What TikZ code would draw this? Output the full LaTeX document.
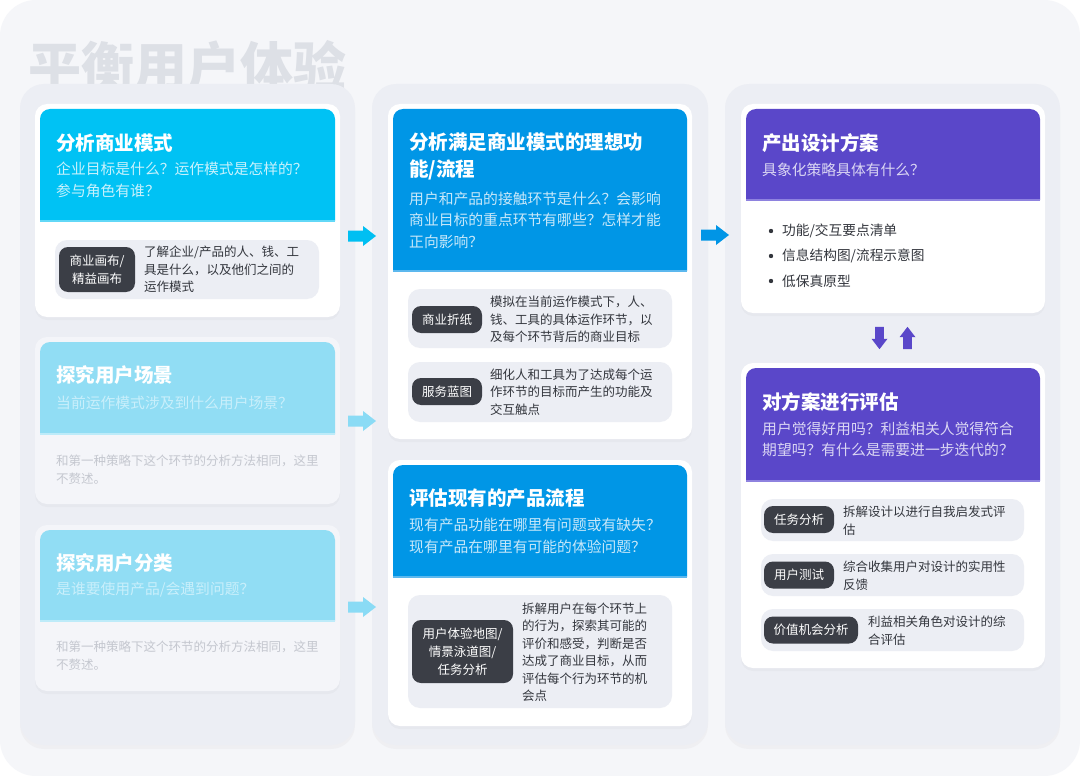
\documentclass[tikz,border=0pt]{standalone}
\usepackage{fontspec}
\setmainfont{Noto Sans CJK SC}
\usetikzlibrary{fit,shadows}
\definecolor{bgout}{HTML}{F5F6F9}
\definecolor{panel}{HTML}{ECEEF4}
\definecolor{titlegray}{HTML}{DDE0E6}
\definecolor{cyanhdr}{HTML}{00C2F4}
\definecolor{cyanline}{HTML}{62D8F7}
\definecolor{fadehdr}{HTML}{91DDF4}
\definecolor{fadeline}{HTML}{BDEBF9}
\definecolor{fadebody}{HTML}{F4F5F9}
\definecolor{fadesub}{HTML}{C9EFFB}
\definecolor{fadetext}{HTML}{C4C7CF}
\definecolor{bluehdr}{HTML}{0096E6}
\definecolor{blueline}{HTML}{5CB8EE}
\definecolor{purphdr}{HTML}{5A47C9}
\definecolor{purpline}{HTML}{8E82DF}
\definecolor{subgray}{HTML}{ECEEF4}
\definecolor{pillc}{HTML}{3B3E46}
\definecolor{txt}{HTML}{33363D}
\definecolor{arrcyan}{HTML}{00BFF2}
\definecolor{arrfade}{HTML}{8ADBF5}
\definecolor{arrblue}{HTML}{0095E6}
\tikzset{
  panelbox/.style={fill=panel, rounded corners=24, inner sep=0,
    drop shadow={opacity=0.05, shadow xshift=0pt, shadow yshift=-4pt}},
  cardbox/.style={fill=#1, rounded corners=12, inner sep=0,
    drop shadow={opacity=0.05, shadow xshift=0pt, shadow yshift=-3pt}},
  subbox/.style={fill=subgray, rounded corners=12, inner sep=0},
  pill/.style={fill=pillc, rounded corners=9, text=white, inner sep=0,
    font=\fontsize{12.5}{18}\selectfont, align=center},
  htitle/.style={anchor=west, inner sep=0, text=white, align=left,
    font=\bfseries\fontsize{19.5}{27}\selectfont},
  hsub/.style={anchor=west, inner sep=0, text=white, opacity=0.78, align=left,
    font=\fontsize{14.8}{21.5}\selectfont},
  fsub/.style={anchor=west, inner sep=0, text=fadesub, align=left,
    font=\fontsize{14.8}{21.5}\selectfont},
  desc/.style={anchor=west, inner sep=0, text=txt, align=left,
    font=\fontsize{12.5}{17.5}\selectfont},
  fdesc/.style={anchor=west, inner sep=0, text=fadetext, align=left,
    font=\fontsize{12.5}{17.5}\selectfont},
  bullet/.style={anchor=west, inner sep=0, text=txt,
    font=\fontsize{13.7}{18}\selectfont},
  barrow/.pic={\fill (-14,-5.5) -- (1,-5.5) -- (1,-10) -- (14,0) -- (1,10) -- (1,5.5) -- (-14,5.5) -- cycle;}
}
% name, x1, y1, x2, y2, header bottom, header colour, line colour, body colour
\newcommand{\mkcard}[9]{%
  \node[cardbox=#9, fit={(#2,#3) (#4,#5)}] (#1) {};
  \fill[#7] (#2+5,#6) [rounded corners=10] -- (#2+5,#3+5) -- (#4-5,#3+5) [sharp corners] -- (#4-5,#6) -- cycle;
  \draw[#8, line width=1.5] (#2+5,#6) -- (#4-5,#6);
}
\begin{document}
\begin{tikzpicture}[x=1pt,y=-1pt]
\useasboundingbox (0,0) rectangle (1080,776);
\fill[white] (0,0) rectangle (1080,776);
\fill[bgout, rounded corners=36] (0,0) rectangle (1080,776);

\node[anchor=west, inner sep=0, text=titlegray, font=\bfseries\fontsize{53}{53}\selectfont] (bigtitle) at (28,66) {平衡用户体验};

% columns
\node[panelbox, fit={(20,84) (355,745)}] (p1) {};
\node[panelbox, fit={(372,84) (708,745)}] (p2) {};
\node[panelbox, fit={(725,84) (1060,745)}] (p3) {};

% ---------- column 1 ----------
\mkcard{a1}{35}{104}{340}{317}{221}{cyanhdr}{cyanline}{white}
\node[htitle] (a1t) at (56,143) {分析商业模式};
\node[hsub] (a1q) at (56,180) {企业目标是什么？运作模式是怎样的？\\参与角色有谁？};
\node[subbox, fit={(55,240) (319,299)}] (a1s) {};
\node[pill, minimum width=76, minimum height=45] (a1p) at (97,269.5) {商业画布/\\精益画布};
\node[desc] (a1d) at (144,269.5) {了解企业/产品的人、钱、工\\具是什么，以及他们之间的\\运作模式};

\mkcard{a2}{35}{337}{340}{504}{434}{fadehdr}{fadeline}{fadebody}
\node[htitle] (a2t) at (56,375) {探究用户场景};
\node[fsub] (a2q) at (56,403) {当前运作模式涉及到什么用户场景？};
\node[fdesc] (a2d) at (56,469.5) {和第一种策略下这个环节的分析方法相同，这里\\不赘述。};

\mkcard{a3}{35}{525}{340}{691}{621}{fadehdr}{fadeline}{fadebody}
\node[htitle] (a3t) at (56,563) {探究用户分类};
\node[fsub] (a3q) at (56,590) {是谁要使用产品/会遇到问题？};
\node[fdesc] (a3d) at (56,655.5) {和第一种策略下这个环节的分析方法相同，这里\\不赘述。};

% ---------- column 2 ----------
\mkcard{b1}{388}{104}{692}{439}{271}{bluehdr}{blueline}{white}
\node[htitle] (b1t) at (409,156.5) {分析满足商业模式的理想功\\能/流程};
\node[hsub] (b1q) at (409,220) {用户和产品的接触环节是什么？会影响\\商业目标的重点环节有哪些？怎样才能\\正向影响？};
\node[subbox, fit={(408,289) (672,348)}] (b1s1) {};
\node[pill, minimum width=70, minimum height=27] (b1p1) at (447,319.5) {商业折纸};
\node[desc] (b1d1) at (490,319.5) {模拟在当前运作模式下，人、\\钱、工具的具体运作环节，以\\及每个环节背后的商业目标};
\node[subbox, fit={(408,362) (672,422)}] (b1s2) {};
\node[pill, minimum width=70, minimum height=27] (b1p2) at (447,391.5) {服务蓝图};
\node[desc] (b1d2) at (490,392) {细化人和工具为了达成每个运\\作环节的目标而产生的功能及\\交互触点};

\mkcard{b2}{388}{460}{692}{726}{577}{bluehdr}{blueline}{white}
\node[htitle] (b2t) at (409,498) {评估现有的产品流程};
\node[hsub] (b2q) at (409,536) {现有产品功能在哪里有问题或有缺失？\\现有产品在哪里有可能的体验问题？};
\node[subbox, fit={(408,595) (672,708)}] (b2s) {};
\node[pill, minimum width=101, minimum height=63] (b2p) at (462.5,651.5) {用户体验地图/\\情景泳道图/\\任务分析};
\node[desc] (b2d) at (522,652) {拆解用户在每个环节上\\的行为，探索其可能的\\评价和感受，判断是否\\达成了商业目标，从而\\评估每个行为环节的机\\会点};

% ---------- column 3 ----------
\mkcard{c1}{741}{104}{1045}{313}{200}{purphdr}{purpline}{white}
\node[htitle] (c1t) at (762,143) {产出设计方案};
\node[hsub] (c1q) at (762,170) {具象化策略具体有什么？};
\fill[txt] (771,231) circle (2.2);
\node[bullet] (c1b1) at (782,231) {功能/交互要点清单};
\fill[txt] (771,256) circle (2.2);
\node[bullet] (c1b2) at (782,256) {信息结构图/流程示意图};
\fill[txt] (771,281) circle (2.2);
\node[bullet] (c1b3) at (782,281) {低保真原型};

\mkcard{c2}{741}{363}{1045}{668}{481}{purphdr}{purpline}{white}
\node[htitle] (c2t) at (762,402) {对方案进行评估};
\node[hsub] (c2q) at (762,439.5) {用户觉得好用吗？利益相关人觉得符合\\期望吗？有什么是需要进一步迭代的？};
\node[subbox, fit={(761,499) (1024,541)}] (c2s1) {};
\node[pill, minimum width=70, minimum height=27] (c2p1) at (799,519.5) {任务分析};
\node[desc] (c2d1) at (843,520.5) {拆解设计以进行自我启发式评\\估};
\node[subbox, fit={(761,554) (1024,596)}] (c2s2) {};
\node[pill, minimum width=70, minimum height=27] (c2p2) at (799,575) {用户测试};
\node[desc] (c2d2) at (843,575.5) {综合收集用户对设计的实用性\\反馈};
\node[subbox, fit={(761,609) (1024,651)}] (c2s3) {};
\node[pill, minimum width=94, minimum height=27] (c2p3) at (811,630) {价值机会分析};
\node[desc] (c2d3) at (868,630.5) {利益相关角色对设计的综\\合评估};

% ---------- arrows ----------
\pic[arrcyan] at (362,236) {barrow};
\pic[arrfade] at (362,421) {barrow};
\pic[arrfade] at (362,607) {barrow};
\pic[arrblue] at (715,235) {barrow};
\pic[purphdr, rotate=-90, scale=0.8] at (879.5,338) {barrow};
\pic[purphdr, rotate=90, scale=0.8] at (907.5,338) {barrow};
\end{tikzpicture}
\end{document}
